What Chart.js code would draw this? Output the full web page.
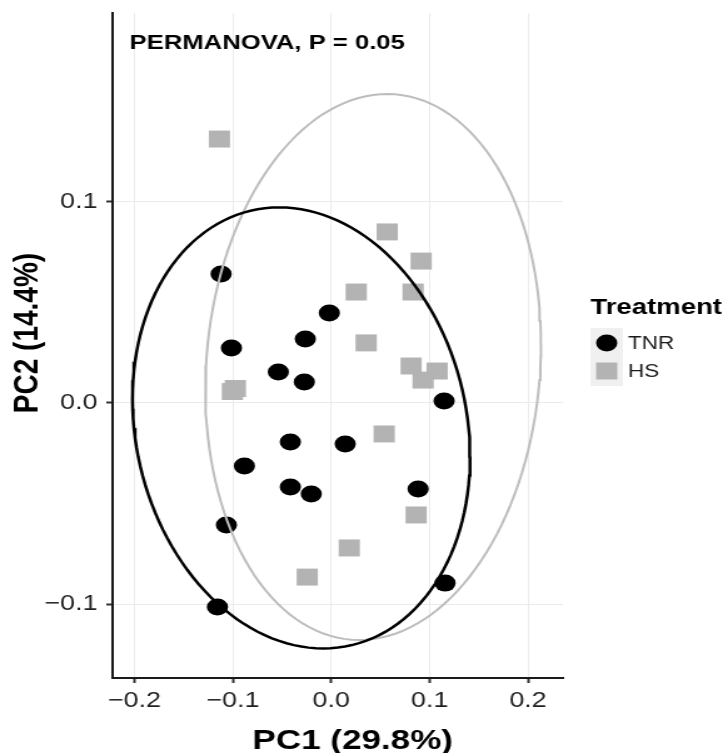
<!DOCTYPE html>
<html>
<head>
<meta charset="utf-8">
<script src="https://cdn.jsdelivr.net/npm/chart.js@4.4.1/dist/chart.umd.min.js"></script>
<style>
  html, body { margin: 0; padding: 0; background: #fff; overflow: hidden; }
  #wrap { width: 582px; height: 753px; transform: scaleX(1.2509); transform-origin: 0 0; }
</style>
</head>
<body>
<div id="wrap"><canvas id="chart" width="582" height="753"></canvas></div>
<script>
const groups = ['TNR', 'HS'];

const tnrPC1 = [-0.112, -0.1015, -0.002, -0.0264, -0.0538, -0.0274, 0.1147, -0.0416, 0.0142, -0.0883, -0.0416, -0.0203, 0.0883, -0.1066, 0.1157, -0.1157];
const tnrPC2 = [0.0642, 0.0274, 0.0448, 0.0318, 0.0154, 0.0104, 0.001, -0.0194, -0.0204, -0.0313, -0.0418, -0.0453, -0.0428, -0.0607, -0.0896, -0.1015];

const hsPC1 = [-0.1137, 0.0569, 0.0914, 0.0254, 0.0832, 0.0355, 0.0812, 0.1076, 0.0934, -0.1005, -0.0975, 0.0538, 0.0863, 0.0183, -0.0244];
const hsPC2 = [0.1313, 0.0851, 0.0706, 0.0552, 0.0552, 0.0299, 0.0184, 0.0159, 0.0114, 0.0057, 0.0072, -0.0154, -0.0557, -0.0721, -0.0866];

// ellipse: centre x, centre y, spread x, spread y, correlation
const tnrEllipse = [-0.0305, -0.0124, 0.1716, 0.1097, -0.13];
const hsEllipse = [0.0426, 0.0179, 0.1706, 0.1358, 0.083];

const xTicks = [-0.2, -0.1, 0.0, 0.1, 0.2];
const yTicks = [-0.1, 0.0, 0.1];
const xRange = [-0.2223, 0.2355];
const yRange = [-0.1368, 0.194];

const notePos = [-0.205, 0.179];
const noteText = 'PERMANOVA, P = 0.05';

const FONT = '"Liberation Sans", Arial, Helvetica, sans-serif';

function $(selector)
{
    return document.querySelector(selector);
}

function toPoints(xs, ys)
{
    return xs.map((v, i) => ({ x: v, y: ys[i] }));
}

function ellipsePath(e)
{
    const [cx, cy, sx, sy, rho] = e;
    const pts = [];
    for (let i = 0; i <= 144; i++) {
        const t = i / 144 * 2 * Math.PI;
        pts.push({
            x: cx + sx * Math.cos(t),
            y: cy + sy * (rho * Math.cos(t) + Math.sqrt(1 - rho * rho) * Math.sin(t))
        });
    }
    return pts;
}

function tickLabel(v)
{
    return (v < 0 ? '\u2212' : '') + Math.abs(v).toFixed(1);
}

const decor = {
    id: 'decor',
    afterDraw(chart) {
        const ctx = chart.ctx;
        const sx = chart.scales.x, sy = chart.scales.y;
        ctx.save();

        ctx.fillStyle = '#000';
        ctx.textBaseline = 'middle';
        ctx.textAlign = 'left';
        ctx.font = 'bold 20.5px ' + FONT;
        ctx.fillText(noteText, sx.getPixelForValue(notePos[0]), sy.getPixelForValue(notePos[1]));

        // axis titles
        ctx.font = 'bold 28px ' + FONT;
        ctx.textAlign = 'center';
        ctx.fillText('PC1 (29.8%)', 282, 741);
        ctx.save();
        ctx.translate(22, 333);
        ctx.rotate(-Math.PI / 2);
        ctx.fillText('PC2 (14.4%)', 0, 0);
        ctx.restore();

        // legend
        ctx.textAlign = 'left';
        ctx.font = 'bold 22px ' + FONT;
        ctx.fillText('Treatment', 472, 308);
        ctx.fillStyle = '#f0f0f0';
        ctx.fillRect(472, 328, 26, 58);
        ctx.fillStyle = '#000';
        ctx.beginPath();
        ctx.arc(485, 343, 8.5, 0, 2 * Math.PI);
        ctx.fill();
        ctx.fillStyle = '#b3b3b3';
        ctx.fillRect(485 - 8.5, 371 - 8.5, 17, 17);
        ctx.fillStyle = '#1a1a1a';
        ctx.font = '18px ' + FONT;
        ctx.fillText(groups[0], 502, 344);
        ctx.fillText(groups[1], 502, 372);

        ctx.restore();
    }
};

const axisCommon = {
    type: 'linear',
    border: { display: true, color: '#1a1a1a', width: 2 },
    grid: { color: '#ebebeb', lineWidth: 1, tickColor: '#333', tickLength: 5, tickWidth: 2 },
    ticks: { color: '#1f1f1f', font: { family: FONT, size: 21.5 }, callback: tickLabel }
};

const config = {
    type: 'scatter',
    data: {
        datasets: [
            {
                label: groups[0] + ' ellipse',
                data: ellipsePath(tnrEllipse),
                showLine: true,
                borderColor: '#000',
                borderWidth: 2.5,
                pointRadius: 0,
                fill: false,
                order: 1
            },
            {
                label: groups[1] + ' ellipse',
                data: ellipsePath(hsEllipse),
                showLine: true,
                borderColor: '#bdbdbd',
                borderWidth: 2,
                pointRadius: 0,
                fill: false,
                order: 2
            },
            {
                label: groups[1],
                data: toPoints(hsPC1, hsPC2),
                pointStyle: 'rect',
                pointRadius: 12,
                backgroundColor: '#b3b3b3',
                borderWidth: 0,
                order: 3
            },
            {
                label: groups[0],
                data: toPoints(tnrPC1, tnrPC2),
                pointStyle: 'circle',
                pointRadius: 8.5,
                backgroundColor: '#000',
                borderWidth: 0,
                order: 4
            }
        ]
    },
    options: {
        responsive: false,
        animation: false,
        events: [],
        layout: { padding: { top: 13, right: 132, bottom: 0, left: 0 } },
        plugins: { legend: { display: false }, tooltip: { enabled: false } },
        scales: {
            x: Object.assign({}, axisCommon, {
                min: xRange[0], max: xRange[1],
                ticks: Object.assign({}, axisCommon.ticks, { padding: 5, maxRotation: 0 }),
                afterBuildTicks: axis => { axis.ticks = xTicks.map(v => ({ value: v })); },
                afterFit: axis => { axis.height = 75; axis.paddingLeft = 0; axis.paddingRight = 0; }
            }),
            y: Object.assign({}, axisCommon, {
                min: yRange[0], max: yRange[1],
                ticks: Object.assign({}, axisCommon.ticks, { padding: 7 }),
                afterBuildTicks: axis => { axis.ticks = yTicks.map(v => ({ value: v })); },
                afterFit: axis => { axis.width = 90; axis.paddingTop = 0; axis.paddingBottom = 0; }
            })
        }
    },
    plugins: [decor]
};

new Chart($('#chart'), config);
</script>
</body>
</html>
